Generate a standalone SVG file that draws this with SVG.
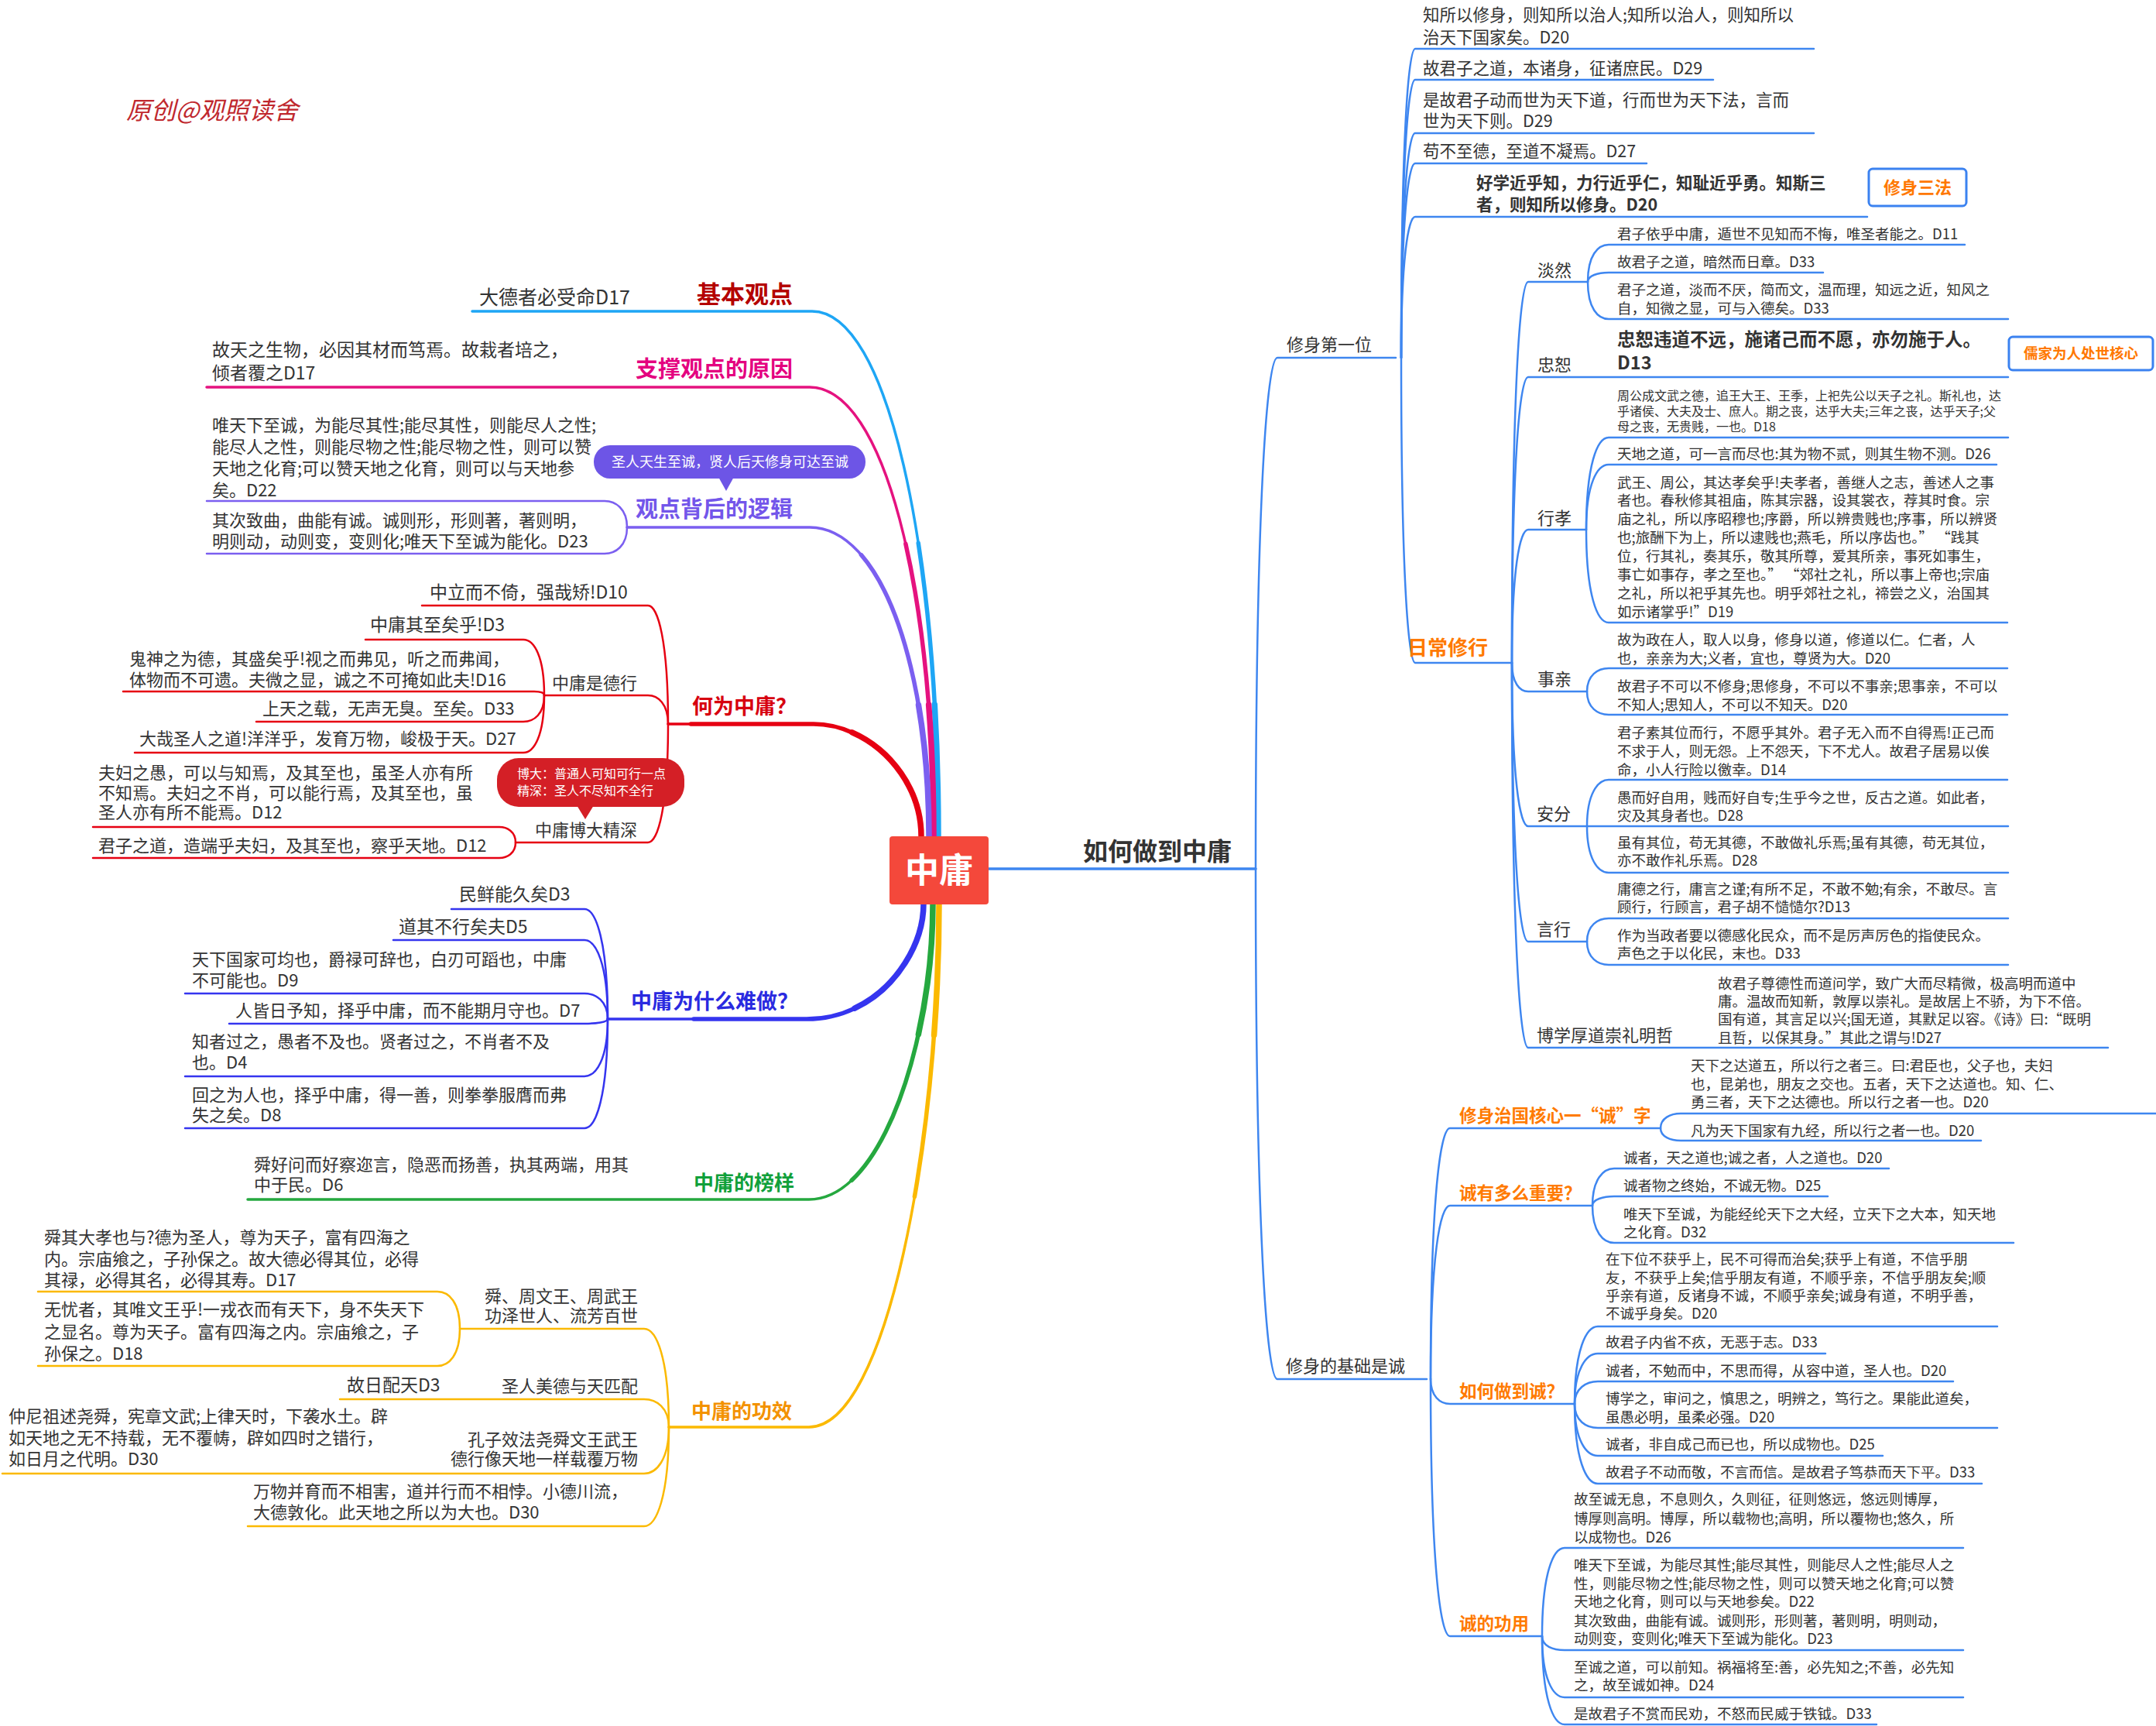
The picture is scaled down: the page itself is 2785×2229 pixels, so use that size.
<svg xmlns="http://www.w3.org/2000/svg" width="2785" height="2229" viewBox="0 0 2785 2229">
<defs>
<style>
text{font-family:"Noto Sans CJK SC","Liberation Sans",sans-serif;}
.t{fill:#333}
.f25{font-size:25px}.f23{font-size:23px}.f22{font-size:22px}.f21{font-size:21.5px}.f19{font-size:18.5px}.f16{font-size:16px}
.b{font-weight:bold}
.k{fill:#333;font-size:22px}
.c{fill:none;stroke-width:2.5;stroke-linecap:round}
.m{fill:none;stroke-width:3.5;stroke-linecap:round}
.m2{fill:none;stroke-width:5.5;stroke-linecap:round;stroke-dasharray:380 6000}
.m3{fill:none;stroke-width:7.5;stroke-linecap:round;stroke-dasharray:170 6000}
.bl{stroke:#3e86f0}
.rd{stroke:#e60012}
.pu{stroke:#7b5ff0}
.nb{stroke:#3535ef}
.ye{stroke:#fbb900}
.cy{stroke:#1ea6f5}
.mg{stroke:#e5127f}
.gr{stroke:#25a83f}
.or{fill:#ff7a00;font-weight:bold;font-size:22.5px}
.box{fill:#fff;stroke:#3b82f0;stroke-width:3}
</style>
<path id="b1" d="M1212 1080 C1212 707,1147 402,1049 402 H610"/>
<path id="b2" d="M1206 1080 C1206 761,1142 500,1046 500 H267"/>
<path id="b3" d="M1200 1080 C1200 861,1138 681,1046 681 H810"/>
<path id="b4" d="M1190 1080 C1190 1000,1120 935,1051 935 H863"/>
<path id="b5" d="M1193 1167 C1193 1234,1133 1316,1042 1316 H785"/>
<path id="b6" d="M1205 1167 C1205 1339,1141 1549,1045 1549 H320"/>
<path id="b7" d="M1213 1167 C1213 1471,1146 1843,1045 1843 H864"/>
</defs>
<rect width="2785" height="2229" fill="#fff"/>
<g id="signature"><text x="163" y="154" font-size="32" fill="#c0282e" font-style="italic">原创@观照读舍</text></g>

<g id="connectors">
<use href="#b1" class="m cy"/><use href="#b1" class="m2 cy"/><use href="#b1" class="m3 cy"/>
<use href="#b2" class="m mg"/><use href="#b2" class="m2 mg"/><use href="#b2" class="m3 mg"/>
<use href="#b3" class="m pu"/><use href="#b3" class="m2 pu"/><use href="#b3" class="m3 pu"/>
<use href="#b4" class="m rd"/><use href="#b4" class="m2 rd"/><use href="#b4" class="m3 rd"/>
<use href="#b5" class="m nb"/><use href="#b5" class="m2 nb"/><use href="#b5" class="m3 nb"/>
<use href="#b6" class="m gr"/><use href="#b6" class="m2 gr"/><use href="#b6" class="m3 gr"/>
<use href="#b7" class="m ye"/><use href="#b7" class="m2 ye"/><use href="#b7" class="m3 ye"/>
<path class="m bl" stroke-width="4" d="M1277 1122 H1622"/>
<path class="c pu" d="M267 647 H781 C795 647,810 657,810 681"/>
<path class="c pu" d="M267 715 H781 C795 715,810 705,810 681"/>
<path class="c rd" d="M545 782 H837 C850 782,863 828,863 935"/>
<path class="c rd" d="M703 898 H837 C850 898,863 909,863 935"/>
<path class="c rd" d="M666 1088 H837 C850 1088,863 1042,863 935"/>
<path class="c rd" d="M472 826 H676 C690 826,703 848,703 898"/>
<path class="c rd" d="M159 893 H690 C697 893,703 894,703 898"/>
<path class="c rd" d="M331 932 H676 C690 932,703 922,703 898"/>
<path class="c rd" d="M174 972 H676 C690 972,703 950,703 898"/>
<path class="c rd" d="M120 1068 H645 C655 1068,666 1074,666 1088"/>
<path class="c rd" d="M120 1108 H645 C655 1108,666 1102,666 1088"/>
<path class="c nb" d="M583 1174 H755 C770 1174,785 1217,785 1316"/>
<path class="c nb" d="M508 1214 H755 C770 1214,785 1245,785 1316"/>
<path class="c nb" d="M239 1283 H755 C770 1283,785 1293,785 1316"/>
<path class="c nb" d="M296 1322 H755 C770 1322,785 1320,785 1316"/>
<path class="c nb" d="M239 1390 H755 C770 1390,785 1368,785 1316"/>
<path class="c nb" d="M239 1457 H755 C770 1457,785 1415,785 1316"/>
<path class="c ye" d="M594 1716 H832 C848 1716,864 1754,864 1843"/>
<path class="c ye" d="M439 1807 H832 C848 1807,864 1818,864 1843"/>
<path class="c ye" d="M3 1903 H832 C848 1903,864 1885,864 1843"/>
<path class="c ye" d="M320 1971 H832 C848 1971,864 1933,864 1843"/>
<path class="c ye" d="M49 1668 H565 C580 1668,594 1682,594 1716"/>
<path class="c ye" d="M49 1764 H565 C580 1764,594 1750,594 1716"/>
<path class="c bl" stroke-width="3" d="M1622 1122 C1622 660,1636 462,1650 462 H1803"/>
<path class="c bl" stroke-width="3" d="M1622 1122 C1622 1583,1636 1781,1650 1781 H1843"/>
<path class="c bl" d="M1810 462 C1810 183,1819 63,1828 63 H2343"/>
<path class="c bl" d="M1810 462 C1810 211,1819 103,1828 103 H2213"/>
<path class="c bl" d="M1810 462 C1810 259,1819 172,1828 172 H2343"/>
<path class="c bl" d="M1810 462 C1810 286,1819 211,1828 211 H2127"/>
<path class="c bl" d="M1810 462 C1810 335,1819 280,1828 280 H2412"/>
<path class="c bl" d="M1810 462 C1810 738,1819 856,1828 856 H1953"/>
<path class="c bl" d="M1953 856 C1953 512,1963 364,1974 364 H2051"/>
<path class="c bl" d="M1953 856 C1953 598,1963 487,1974 487 H2594"/>
<path class="c bl" d="M1953 856 C1953 736,1963 684,1974 684 H2049"/>
<path class="c bl" d="M1953 856 C1953 882,1963 893,1974 893 H2050"/>
<path class="c bl" d="M1953 856 C1953 1004,1963 1067,1974 1067 H2594"/>
<path class="c bl" d="M1953 856 C1953 1108,1963 1216,1974 1216 H2050"/>
<path class="c bl" d="M1953 856 C1953 1204,1963 1353,1974 1353 H2723"/>
<path class="c bl" d="M2051 364 C2051 330,2064 316,2078 316 H2538"/>
<path class="c bl" d="M2051 364 C2051 356,2064 352,2078 352 H2355"/>
<path class="c bl" d="M2051 364 C2051 398,2064 412,2078 412 H2594"/>
<path class="c bl" d="M2049 684 C2049 601,2063 565,2078 565 H2594"/>
<path class="c bl" d="M2049 684 C2049 625,2063 600,2078 600 H2579"/>
<path class="c bl" d="M2049 684 C2049 768,2063 804,2078 804 H2593"/>
<path class="c bl" d="M2050 893 C2050 872,2064 863,2078 863 H2593"/>
<path class="c bl" d="M2050 893 C2050 914,2064 923,2078 923 H2593"/>
<path class="c bl" d="M2050 1067 C2050 1025,2064 1007,2078 1007 H2593"/>
<path class="c bl" d="M2050 1067 C2050 1109,2064 1127,2078 1127 H2594"/>
<path class="c bl" d="M2050 1216 C2050 1195,2064 1186,2078 1186 H2594"/>
<path class="c bl" d="M2050 1216 C2050 1237,2064 1246,2078 1246 H2594"/>
<path class="c bl" d="M1848 1781 C1848 1554,1860 1457,1873 1457 H2145"/>
<path class="c bl" d="M1848 1781 C1848 1624,1860 1557,1873 1557 H2057"/>
<path class="c bl" d="M1848 1781 C1848 1803,1860 1813,1873 1813 H2034"/>
<path class="c bl" d="M1848 1781 C1848 2013,1860 2113,1873 2113 H1992"/>
<path class="c bl" d="M2145 1457 C2145 1444,2158 1438,2171 1438 H2785"/>
<path class="c bl" d="M2145 1457 C2145 1468,2158 1473,2171 1473 H2559"/>
<path class="c bl" d="M2057 1557 C2057 1523,2071 1509,2085 1509 H2440"/>
<path class="c bl" d="M2057 1557 C2057 1549,2071 1545,2085 1545 H2361"/>
<path class="c bl" d="M2057 1557 C2057 1591,2071 1605,2085 1605 H2601"/>
<path class="c bl" d="M2034 1813 C2034 1743,2049 1713,2064 1713 H2580"/>
<path class="c bl" d="M2034 1813 C2034 1768,2049 1748,2064 1748 H2358"/>
<path class="c bl" d="M2034 1813 C2034 1793,2049 1784,2064 1784 H2523"/>
<path class="c bl" d="M2034 1813 C2034 1835,2049 1844,2064 1844 H2580"/>
<path class="c bl" d="M2034 1813 C2034 1860,2049 1880,2064 1880 H2432"/>
<path class="c bl" d="M2034 1813 C2034 1885,2049 1916,2064 1916 H2560"/>
<path class="c bl" d="M1992 2113 C1992 2033,2006 1999,2021 1999 H2536"/>
<path class="c bl" d="M1992 2113 C1992 2126,2006 2131,2021 2131 H2536"/>
<path class="c bl" d="M1992 2113 C1992 2168,2006 2192,2021 2192 H2536"/>
<path class="c bl" d="M1992 2113 C1992 2193,2006 2227,2021 2227 H2424"/>
</g>

<g id="root">
<rect x="1149" y="1080" width="128" height="88" rx="4" fill="#f4483b"/>
<text x="1213" y="1140" font-size="44" font-weight="bold" fill="#fff" text-anchor="middle">中庸</text>
</g>

<g id="n-jibenguandian"><text x="1024" y="391" text-anchor="end" class="b" font-size="31" fill="#b40000">基本观点</text></g>
<g id="n-d17a"><text class="t f25" x="619" y="393">大德者必受命D17</text></g>

<g id="n-zhicheng"><text x="1024" y="487" text-anchor="end" class="b" font-size="29" fill="#e4007f">支撑观点的原因</text></g>
<g id="n-d17b"><text class="t f23"><tspan x="274" y="460">故天之生物，必因其材而笃焉。故栽者培之，</tspan><tspan x="274" y="490">倾者覆之D17</tspan></text></g>

<g id="n-luoji"><text x="1024" y="668" text-anchor="end" class="b" font-size="29" fill="#7356ea">观点背后的逻辑</text></g>
<g id="callout-purple">
<path d="M928 616 L938 634 L948 616 Z" fill="#6d55e6"/>
<rect x="767" y="575" width="351" height="43" rx="21" fill="#6d55e6"/>
<text x="943" y="603" font-size="18" fill="#fff" text-anchor="middle">圣人天生至诚，贤人后天修身可达至诚</text>
</g>
<g id="n-d22a"><text class="t f22"><tspan x="274" y="557">唯天下至诚，为能尽其性;能尽其性，则能尽人之性;</tspan><tspan x="274" y="585">能尽人之性，则能尽物之性;能尽物之性，则可以赞</tspan><tspan x="274" y="613">天地之化育;可以赞天地之化育，则可以与天地参</tspan><tspan x="274" y="641">矣。D22</tspan></text></g>
<g id="n-d23a"><text class="t f22"><tspan x="274" y="680">其次致曲，曲能有诚。诚则形，形则著，著则明，</tspan><tspan x="274" y="707">明则动，动则变，变则化;唯天下至诚为能化。D23</tspan></text></g>

<g id="n-heweizhongyong"><text x="894" y="922" class="b" font-size="27" fill="#d7000f">何为中庸？</text></g>
<g id="n-d10"><text class="t f23" x="555" y="773">中立而不倚，强哉矫!D10</text></g>
<g id="n-dexing"><text class="k" font-size="19" x="823" y="890" text-anchor="end">中庸是德行</text></g>
<g id="n-d3a"><text class="t f23" x="478" y="815">中庸其至矣乎!D3</text></g>
<g id="n-d16"><text class="t f22"><tspan x="167" y="859">鬼神之为德，其盛矣乎!视之而弗见，听之而弗闻，</tspan><tspan x="167" y="886">体物而不可遗。夫微之显，诚之不可掩如此夫!D16</tspan></text></g>
<g id="n-d33a"><text class="t f22" x="339" y="923">上天之载，无声无臭。至矣。D33</text></g>
<g id="n-d27a"><text class="t f22" x="180" y="962">大哉圣人之道!洋洋乎，发育万物，峻极于天。D27</text></g>
<g id="n-boda"><text class="k" x="823" y="1080" text-anchor="end">中庸博大精深</text></g>
<g id="callout-red">
<path d="M745 1040 L756 1058 L767 1040 Z" fill="#d41f26"/>
<rect x="642" y="979" width="242" height="63" rx="28" fill="#d41f26"/>
<text font-size="16" fill="#fff"><tspan x="668" y="1005">博大：普通人可知可行一点</tspan><tspan x="668" y="1027">精深：圣人不尽知不全行</tspan></text>
</g>
<g id="n-d12a"><text class="t f22"><tspan x="127" y="1006">夫妇之愚，可以与知焉，及其至也，虽圣人亦有所</tspan><tspan x="127" y="1032">不知焉。夫妇之不肖，可以能行焉，及其至也，虽</tspan><tspan x="127" y="1057">圣人亦有所不能焉。D12</tspan></text></g>
<g id="n-d12b"><text class="t f22" x="127" y="1100">君子之道，造端乎夫妇，及其至也，察乎天地。D12</text></g>

<g id="n-nanzuo"><text x="815" y="1303" class="b" font-size="27" fill="#2a2ae0">中庸为什么难做？</text></g>
<g id="n-d3b"><text class="t f23" x="593" y="1163">民鲜能久矣D3</text></g>
<g id="n-d5"><text class="t f23" x="515" y="1205">道其不行矣夫D5</text></g>
<g id="n-d9"><text class="t f22"><tspan x="248" y="1247">天下国家可均也，爵禄可辞也，白刃可蹈也，中庸</tspan><tspan x="248" y="1274">不可能也。D9</tspan></text></g>
<g id="n-d7"><text class="t f22" x="304" y="1313">人皆日予知，择乎中庸，而不能期月守也。D7</text></g>
<g id="n-d4"><text class="t f22"><tspan x="248" y="1353">知者过之，愚者不及也。贤者过之，不肖者不及</tspan><tspan x="248" y="1380">也。D4</tspan></text></g>
<g id="n-d8"><text class="t f22"><tspan x="248" y="1422">回之为人也，择乎中庸，得一善，则拳拳服膺而弗</tspan><tspan x="248" y="1448">失之矣。D8</tspan></text></g>

<g id="n-bangyang"><text x="896" y="1537" class="b" font-size="26" fill="#10a03a">中庸的榜样</text></g>
<g id="n-d6"><text class="t f22"><tspan x="328" y="1512">舜好问而好察迩言，隐恶而扬善，执其两端，用其</tspan><tspan x="328" y="1538">中于民。D6</tspan></text></g>

<g id="n-gongxiao"><text x="893" y="1832" class="b" font-size="26" fill="#f39200">中庸的功效</text></g>
<g id="n-shun"><text class="k"><tspan x="824" y="1682" text-anchor="end">舜、周文王、周武王</tspan><tspan x="824" y="1707" text-anchor="end">功泽世人、流芳百世</tspan></text></g>
<g id="n-d17c"><text class="t f22"><tspan x="57" y="1606">舜其大孝也与?德为圣人，尊为天子，富有四海之</tspan><tspan x="57" y="1634">内。宗庙飨之，子孙保之。故大德必得其位，必得</tspan><tspan x="57" y="1661">其禄，必得其名，必得其寿。D17</tspan></text></g>
<g id="n-d18a"><text class="t f22"><tspan x="57" y="1699">无忧者，其唯文王乎!一戎衣而有天下，身不失天下</tspan><tspan x="57" y="1728">之显名。尊为天子。富有四海之内。宗庙飨之，子</tspan><tspan x="57" y="1756">孙保之。D18</tspan></text></g>
<g id="n-pipei"><text class="k" x="824" y="1798" text-anchor="end">圣人美德与天匹配</text></g>
<g id="n-d3c"><text class="t f23" x="448" y="1797">故日配天D3</text></g>
<g id="n-kongzi"><text class="k"><tspan x="824" y="1867" text-anchor="end">孔子效法尧舜文王武王</tspan><tspan x="824" y="1892" text-anchor="end">德行像天地一样载覆万物</tspan></text></g>
<g id="n-d30a"><text class="t f22"><tspan x="11" y="1837">仲尼祖述尧舜，宪章文武;上律天时，下袭水土。辟</tspan><tspan x="11" y="1865">如天地之无不持载，无不覆帱，辟如四时之错行，</tspan><tspan x="11" y="1892">如日月之代明。D30</tspan></text></g>
<g id="n-d30b"><text class="t f22"><tspan x="327" y="1934">万物并育而不相害，道并行而不相悖。小德川流，</tspan><tspan x="327" y="1961">大德敦化。此天地之所以为大也。D30</tspan></text></g>

<g id="n-ruhe"><text x="1399" y="1111" class="b" font-size="32" fill="#333">如何做到中庸</text></g>
<g id="n-xiushen1"><text class="k" x="1662" y="453">修身第一位</text></g>
<g id="n-r-d20a"><text class="t f21"><tspan x="1838" y="27">知所以修身，则知所以治人;知所以治人，则知所以</tspan><tspan x="1838" y="56">治天下国家矣。D20</tspan></text></g>
<g id="n-r-d29a"><text class="t f21" x="1838" y="96">故君子之道，本诸身，征诸庶民。D29</text></g>
<g id="n-r-d29b"><text class="t f21"><tspan x="1838" y="137">是故君子动而世为天下道，行而世为天下法，言而</tspan><tspan x="1838" y="164">世为天下则。D29</tspan></text></g>
<g id="n-r-d27a"><text class="t f21" x="1838" y="203">苟不至德，至道不凝焉。D27</text></g>
<g id="n-r-d20b"><text class="t f21 b"><tspan x="1907" y="244">好学近乎知，力行近乎仁，知耻近乎勇。知斯三</tspan><tspan x="1907" y="272">者，则知所以修身。D20</tspan></text></g>
<g id="callout-sanfa"><rect class="box" x="2414" y="218" width="126" height="48" rx="5"/><text x="2477" y="250" text-anchor="middle" class="b" font-size="22" fill="#ff7800">修身三法</text></g>
<g id="n-richang"><text x="1818" y="846" class="b" font-size="26" fill="#ff7a00">日常修行</text></g>

<g id="n-danran"><text class="t f22" x="1986" y="357">淡然</text></g>
<g id="n-r-d11"><text class="t f19" x="2089" y="309">君子依乎中庸，遁世不见知而不悔，唯圣者能之。D11</text></g>
<g id="n-r-d33a"><text class="t f19" x="2089" y="345">故君子之道，暗然而日章。D33</text></g>
<g id="n-r-d33b"><text class="t f19"><tspan x="2089" y="381">君子之道，淡而不厌，简而文，温而理，知远之近，知风之</tspan><tspan x="2089" y="405">自，知微之显，可与入德矣。D33</tspan></text></g>

<g id="n-zhongshu"><text class="t f22" x="1986" y="479">忠恕</text></g>
<g id="n-r-d13a"><text class="t b" font-size="23.5"><tspan x="2089" y="447">忠恕违道不远，施诸己而不愿，亦勿施于人。</tspan><tspan x="2089" y="477">D13</tspan></text></g>
<g id="callout-rujia"><rect class="box" x="2595" y="435" width="186" height="43" rx="5"/><text x="2688" y="463" text-anchor="middle" class="b" font-size="18.5" fill="#ff7800">儒家为人处世核心</text></g>

<g id="n-xingxiao"><text class="t f22" x="1986" y="677">行孝</text></g>
<g id="n-r-d18"><text class="t f16"><tspan x="2089" y="517">周公成文武之德，追王大王、王季，上祀先公以天子之礼。斯礼也，达</tspan><tspan x="2089" y="537">乎诸侯、大夫及士、庶人。期之丧，达乎大夫;三年之丧，达乎天子;父</tspan><tspan x="2089" y="557">母之丧，无贵贱，一也。D18</tspan></text></g>
<g id="n-r-d26a"><text class="t f19" x="2089" y="593">天地之道，可一言而尽也:其为物不贰，则其生物不测。D26</text></g>
<g id="n-r-d19"><text class="t f19"><tspan x="2089" y="630">武王、周公，其达孝矣乎!夫孝者，善继人之志，善述人之事</tspan><tspan x="2089" y="653">者也。春秋修其祖庙，陈其宗器，设其裳衣，荐其时食。宗</tspan><tspan x="2089" y="677">庙之礼，所以序昭穆也;序爵，所以辨贵贱也;序事，所以辨贤</tspan><tspan x="2089" y="701">也;旅酬下为上，所以逮贱也;燕毛，所以序齿也。” “践其</tspan><tspan x="2089" y="725">位，行其礼，奏其乐，敬其所尊，爱其所亲，事死如事生，</tspan><tspan x="2089" y="749">事亡如事存，孝之至也。” “郊社之礼，所以事上帝也;宗庙</tspan><tspan x="2089" y="773">之礼，所以祀乎其先也。明乎郊社之礼，禘尝之义，治国其</tspan><tspan x="2089" y="797">如示诸掌乎!”D19</tspan></text></g>

<g id="n-shiqin"><text class="t f22" x="1986" y="885">事亲</text></g>
<g id="n-r-d20c"><text class="t f19"><tspan x="2089" y="833">故为政在人，取人以身，修身以道，修道以仁。仁者，人</tspan><tspan x="2089" y="857">也，亲亲为大;义者，宜也，尊贤为大。D20</tspan></text></g>
<g id="n-r-d20d"><text class="t f19"><tspan x="2089" y="893">故君子不可以不修身;思修身，不可以不事亲;思事亲，不可以</tspan><tspan x="2089" y="917">不知人;思知人，不可以不知天。D20</tspan></text></g>

<g id="n-anfen"><text class="t f22" x="1985" y="1059">安分</text></g>
<g id="n-r-d14"><text class="t f19"><tspan x="2089" y="953">君子素其位而行，不愿乎其外。君子无入而不自得焉!正己而</tspan><tspan x="2089" y="977">不求于人，则无怨。上不怨天，下不尤人。故君子居易以俟</tspan><tspan x="2089" y="1001">命，小人行险以徼幸。D14</tspan></text></g>
<g id="n-r-d28a"><text class="t f19"><tspan x="2089" y="1037">愚而好自用，贱而好自专;生乎今之世，反古之道。如此者，</tspan><tspan x="2089" y="1060">灾及其身者也。D28</tspan></text></g>
<g id="n-r-d28b"><text class="t f19"><tspan x="2089" y="1095">虽有其位，苟无其德，不敢做礼乐焉;虽有其德，苟无其位，</tspan><tspan x="2089" y="1118">亦不敢作礼乐焉。D28</tspan></text></g>

<g id="n-yanxing"><text class="t f22" x="1985" y="1208">言行</text></g>
<g id="n-r-d13b"><text class="t f19"><tspan x="2089" y="1155">庸德之行，庸言之谨;有所不足，不敢不勉;有余，不敢尽。言</tspan><tspan x="2089" y="1178">顾行，行顾言，君子胡不慥慥尔?D13</tspan></text></g>
<g id="n-r-d33c"><text class="t f19"><tspan x="2089" y="1215">作为当政者要以德感化民众，而不是厉声厉色的指使民众。</tspan><tspan x="2089" y="1238">声色之于以化民，末也。D33</tspan></text></g>

<g id="n-boxue"><text class="t f22" x="1985" y="1345">博学厚道崇礼明哲</text></g>
<g id="n-r-d27b"><text class="t f19"><tspan x="2219" y="1277">故君子尊德性而道问学，致广大而尽精微，极高明而道中</tspan><tspan x="2219" y="1300">庸。温故而知新，敦厚以崇礼。是故居上不骄，为下不倍。</tspan><tspan x="2219" y="1323">国有道，其言足以兴;国无道，其默足以容。《诗》曰:“既明</tspan><tspan x="2219" y="1347">且哲，以保其身。”其此之谓与!D27</tspan></text></g>

<g id="n-xiushen2"><text class="k" x="1661" y="1772">修身的基础是诚</text></g>

<g id="n-hexin"><text class="or" x="1885" y="1449">修身治国核心一“诚”字</text></g>
<g id="n-r-d20e"><text class="t f19"><tspan x="2184" y="1383">天下之达道五，所以行之者三。曰:君臣也，父子也，夫妇</tspan><tspan x="2184" y="1407">也，昆弟也，朋友之交也。五者，天下之达道也。知、仁、</tspan><tspan x="2184" y="1430">勇三者，天下之达德也。所以行之者一也。D20</tspan></text></g>
<g id="n-r-d20f"><text class="t f19" x="2184" y="1467">凡为天下国家有九经，所以行之者一也。D20</text></g>

<g id="n-zhongyao"><text class="or" x="1885" y="1549">诚有多么重要？</text></g>
<g id="n-r-d20g"><text class="t f19" x="2097" y="1502">诚者，天之道也;诚之者，人之道也。D20</text></g>
<g id="n-r-d25a"><text class="t f19" x="2097" y="1538">诚者物之终始，不诚无物。D25</text></g>
<g id="n-r-d32"><text class="t f19"><tspan x="2097" y="1575">唯天下至诚，为能经纶天下之大经，立天下之大本，知天地</tspan><tspan x="2097" y="1598">之化育。D32</tspan></text></g>

<g id="n-zuodao"><text class="or" x="1885" y="1805">如何做到诚？</text></g>
<g id="n-r-d20h"><text class="t f19"><tspan x="2074" y="1633">在下位不获乎上，民不可得而治矣;获乎上有道，不信乎朋</tspan><tspan x="2074" y="1657">友，不获乎上矣;信乎朋友有道，不顺乎亲，不信乎朋友矣;顺</tspan><tspan x="2074" y="1680">乎亲有道，反诸身不诚，不顺乎亲矣;诚身有道，不明乎善，</tspan><tspan x="2074" y="1703">不诚乎身矣。D20</tspan></text></g>
<g id="n-r-d33d"><text class="t f19" x="2074" y="1740">故君子内省不疚，无恶于志。D33</text></g>
<g id="n-r-d20i"><text class="t f19" x="2074" y="1777">诚者，不勉而中，不思而得，从容中道，圣人也。D20</text></g>
<g id="n-r-d20j"><text class="t f19"><tspan x="2074" y="1813">博学之，审问之，慎思之，明辨之，笃行之。果能此道矣，</tspan><tspan x="2074" y="1837">虽愚必明，虽柔必强。D20</tspan></text></g>
<g id="n-r-d25b"><text class="t f19" x="2074" y="1872">诚者，非自成己而已也，所以成物也。D25</text></g>
<g id="n-r-d33e"><text class="t f19" x="2074" y="1908">故君子不动而敬，不言而信。是故君子笃恭而天下平。D33</text></g>

<g id="n-gongyong"><text class="or" x="1885" y="2105">诚的功用</text></g>
<g id="n-r-d26b"><text class="t f19"><tspan x="2033" y="1943">故至诚无息，不息则久，久则征，征则悠远，悠远则博厚，</tspan><tspan x="2033" y="1968">博厚则高明。博厚，所以载物也;高明，所以覆物也;悠久，所</tspan><tspan x="2033" y="1992">以成物也。D26</tspan></text></g>
<g id="n-r-d22"><text class="t f19"><tspan x="2033" y="2028">唯天下至诚，为能尽其性;能尽其性，则能尽人之性;能尽人之</tspan><tspan x="2033" y="2052">性，则能尽物之性;能尽物之性，则可以赞天地之化育;可以赞</tspan><tspan x="2033" y="2075">天地之化育，则可以与天地参矣。D22</tspan><tspan x="2033" y="2100">其次致曲，曲能有诚。诚则形，形则著，著则明，明则动，</tspan><tspan x="2033" y="2123">动则变，变则化;唯天下至诚为能化。D23</tspan></text></g>
<g id="n-r-d24"><text class="t f19"><tspan x="2033" y="2160">至诚之道，可以前知。祸福将至:善，必先知之;不善，必先知</tspan><tspan x="2033" y="2183">之，故至诚如神。D24</tspan></text></g>
<g id="n-r-d33f"><text class="t f19" x="2033" y="2220">是故君子不赏而民劝，不怒而民威于铁钺。D33</text></g>
</svg>
